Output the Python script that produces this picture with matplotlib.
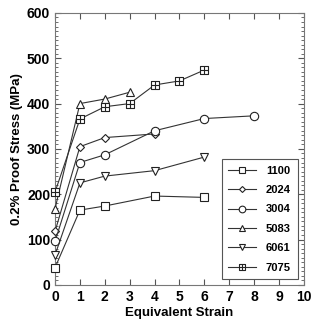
import matplotlib
matplotlib.use("Agg")
import matplotlib.pyplot as plt
from matplotlib.path import Path
from matplotlib.ticker import MultipleLocator

plt.rcParams['font.family'] = ['Liberation Sans', 'DejaVu Sans']
plt.rcParams['font.weight'] = 'bold'

alloys = ["1100", "2024", "3004", "5083", "6061", "7075"]
x_1100 = [0, 1, 2, 4, 6]
y_1100 = [38, 165, 174, 196, 193]
x_2024 = [0, 1, 2, 4]
y_2024 = [118, 305, 325, 333]
x_3004 = [0, 1, 2, 4, 6, 8]
y_3004 = [96, 270, 287, 340, 367, 373]
x_5083 = [0, 1, 2, 3]
y_5083 = [168, 400, 410, 425]
x_6061 = [0, 1, 2, 4, 6]
y_6061 = [66, 225, 240, 252, 282]
x_7075 = [0, 1, 2, 3, 4, 5, 6]
y_7075 = [205, 366, 393, 400, 441, 450, 474]

# square with a cross inside
boxplus = Path(
    [(-1, -1), (1, -1), (1, 1), (-1, 1), (-1, -1), (0, -1), (0, 1), (-1, 0), (1, 0)],
    [Path.MOVETO, Path.LINETO, Path.LINETO, Path.LINETO, Path.CLOSEPOLY,
     Path.MOVETO, Path.LINETO, Path.MOVETO, Path.LINETO])

series = [
    (x_1100, y_1100, "s", 5.5),
    (x_2024, y_2024, "D", 3.8),
    (x_3004, y_3004, "o", 6),
    (x_5083, y_5083, "^", 6),
    (x_6061, y_6061, "v", 6),
    (x_7075, y_7075, boxplus, 5.5),
]

fig = plt.figure(figsize=(3.11, 3.23), dpi=100)
ax = fig.add_axes([0.177, 0.118, 0.8, 0.842])

for name, (xs, ys, m, ms) in zip(alloys, series):
    ax.plot(xs, ys, color="#333333", linewidth=0.8, marker=m, markersize=ms,
            markerfacecolor="white", markeredgecolor="#222222",
            markeredgewidth=0.8, label=name, clip_on=False, zorder=3)

ax.set_xlim(0, 10)
ax.set_ylim(0, 600)
ax.xaxis.set_major_locator(MultipleLocator(1))
ax.yaxis.set_major_locator(MultipleLocator(100))
ax.yaxis.set_minor_locator(MultipleLocator(10))
ax.tick_params(which="both", direction="in", top=True, right=True,
               labelsize=10, color="#555555")
ax.tick_params(which="major", length=4)
ax.tick_params(which="minor", length=2)
for s in ax.spines.values():
    s.set_color("#777777")
    s.set_linewidth(0.8)

ax.set_xlabel("Equivalent Strain", fontsize=9.5, fontweight="bold", labelpad=2)
ax.set_ylabel("0.2% Proof Stress (MPa)", fontsize=9.5, fontweight="bold", labelpad=3)

leg = ax.legend(loc="lower right", bbox_to_anchor=(0.975, 0.02), fontsize=8,
                fancybox=False, framealpha=1, edgecolor="#555555",
                markerscale=0.8, handlelength=2.5, labelspacing=0.85,
                borderpad=0.6, handletextpad=0.9, borderaxespad=0)
leg.get_frame().set_linewidth(0.8)
for t in leg.get_texts():
    t.set_fontweight("bold")

fig.savefig("out.png", dpi=100)
